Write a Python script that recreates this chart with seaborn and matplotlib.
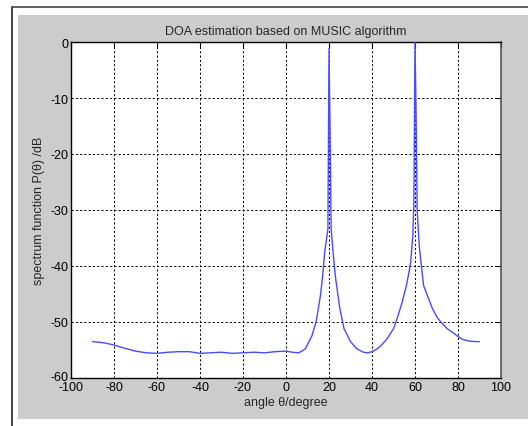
import pandas as pd
import matplotlib
matplotlib.use('Agg')
import matplotlib.pyplot as plt
import matplotlib.transforms as mtransforms
from matplotlib.patches import Rectangle
from matplotlib.lines import Line2D
import seaborn as sns

# MUSIC spatial spectrum (angle in degrees, spectrum in dB)
angle = [-90, -85, -80, -75, -70, -65, -60, -55, -50, -45, -40, -35, -30, -25,
         -20, -15, -10, -5, 0, 3, 6, 9, 12, 14, 16, 17, 18, 19.5, 20, 20.5, 21,
         22, 23, 25, 27, 30, 33, 36, 38, 40, 42, 44, 47, 50, 52, 54, 56, 57, 58,
         59, 59.5, 60, 60.5, 61, 62, 63, 64, 66, 68, 70, 72, 75, 78, 80, 82, 85,
         88, 90]
spectrum_db = [-53.5, -53.7, -54.1, -54.7, -55.2, -55.5, -55.6, -55.4, -55.3,
               -55.3, -55.6, -55.5, -55.4, -55.6, -55.5, -55.4, -55.5, -55.3,
               -55.2, -55.4, -55.5, -54.8, -52.5, -50.0, -45.3, -42.0, -37.5,
               -33.4, -1.2, -16.0, -33.4, -38.0, -42.0, -47.5, -51.2, -53.5,
               -54.8, -55.4, -55.5, -55.3, -54.9, -54.3, -53.0, -51.2, -49.0,
               -46.5, -43.5, -41.5, -39.3, -34.5, -28.5, 0.0, -12.5, -30.0,
               -36.5, -40.0, -43.5, -45.5, -47.5, -49.0, -50.0, -51.2, -52.0,
               -52.6, -53.1, -53.4, -53.5, -53.5]

x_ticks = [-100, -80, -60, -40, -20, 0, 20, 40, 60, 80, 100]
y_ticks = [-60, -50, -40, -30, -20, -10, 0]

df = pd.DataFrame({'angle': angle, 'P': spectrum_db})

sns.set_style('white')
plt.rcParams['font.family'] = ['Liberation Sans', 'DejaVu Sans']
plt.rcParams['font.size'] = 9
plt.rcParams['axes.unicode_minus'] = False

W, H = 528, 427
fig = plt.figure(figsize=(W / 100, H / 100), dpi=100)
fig.patch.set_facecolor('white')

# gray MATLAB-like figure panel and the window border
fig.patches.append(Rectangle((18 / W, 1 - 420 / H), (W - 18) / W, (420 - 16) / H,
                             transform=fig.transFigure, facecolor='#cccccc',
                             edgecolor='none', zorder=-2))
fig.lines.append(Line2D([12 / W, 12 / W], [0, 1 - 8 / H], transform=fig.transFigure,
                        color='#222222', lw=1.2))
fig.lines.append(Line2D([12 / W, 1], [1 - 8 / H, 1 - 8 / H], transform=fig.transFigure,
                        color='#444444', lw=1.2))

ax = fig.add_axes([71 / W, 1 - 379 / H, (501 - 71) / W, (379 - 43) / H])
ax.set_facecolor('white')

sns.lineplot(data=df, x='angle', y='P', ax=ax, color='#4a4aff', lw=1.0,
             estimator=None, sort=False, zorder=3)

ax.set_xlim(-100, 100)
ax.set_ylim(-60, 0)
ax.set_xticks(x_ticks)
ax.set_yticks(y_ticks)
ax.grid(True, color='black', linestyle=(0, (2.2, 2.2)), lw=0.7)
ax.set_axisbelow(True)
ax.tick_params(direction='in', length=4, top=True, right=True, labelsize=9,
               colors='black', pad=2)
for side in ['left', 'top', 'bottom']:
    ax.spines[side].set_color('black')
    ax.spines[side].set_linewidth(1.0)
ax.spines['right'].set_color('#555555')
ax.spines['right'].set_linewidth(1.2)

ax.set_title('DOA estimation based on MUSIC algorithm', fontsize=9, pad=6)
ax.set_xlabel('angle θ/degree', fontsize=9, labelpad=2)
ax.set_ylabel('spectrum function P(θ) /dB', fontsize=9, labelpad=4)

# lift the -60 label a little so it does not collide with -100
fig.canvas.draw()
lbl = ax.get_yticklabels()[0]
lbl.set_transform(lbl.get_transform() + mtransforms.ScaledTranslation(0, 2 / 72, fig.dpi_scale_trans))

fig.savefig('out.png', dpi=100)
